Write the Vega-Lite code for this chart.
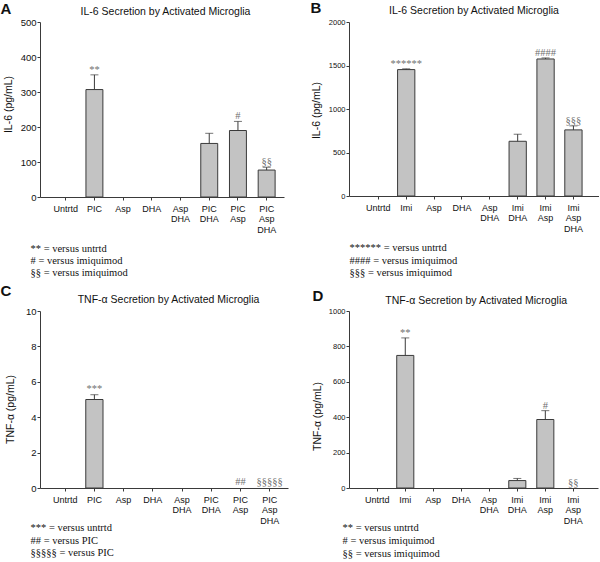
{
"$schema":"https://vega.github.io/schema/vega-lite/v6.json",
"padding":0,
"background":"white",
"datasets":{
"A":[
{"cat":"Untrtd","value":0,"upper":0,"label":""},
{"cat":"PIC","value":307,"upper":349,"label":"**"},
{"cat":"Asp","value":0,"upper":0,"label":""},
{"cat":"DHA","value":0,"upper":0,"label":""},
{"cat":"Asp DHA","value":0,"upper":0,"label":""},
{"cat":"PIC DHA","value":153,"upper":182,"label":""},
{"cat":"PIC Asp","value":190,"upper":216,"label":"#"},
{"cat":"PIC Asp DHA","value":77,"upper":85,"label":"§§"}],
"B":[
{"cat":"Untrtd","value":0,"upper":0,"label":""},
{"cat":"Imi","value":1453,"upper":1462,"label":"******"},
{"cat":"Asp","value":0,"upper":0,"label":""},
{"cat":"DHA","value":0,"upper":0,"label":""},
{"cat":"Asp DHA","value":0,"upper":0,"label":""},
{"cat":"Imi DHA","value":629,"upper":710,"label":""},
{"cat":"Imi Asp","value":1575,"upper":1587,"label":"####"},
{"cat":"Imi Asp DHA","value":760,"upper":806,"label":"§§§"}],
"C":[
{"cat":"Untrtd","value":0,"upper":0,"label":""},
{"cat":"PIC","value":5.0,"upper":5.27,"label":"***"},
{"cat":"Asp","value":0,"upper":0,"label":""},
{"cat":"DHA","value":0,"upper":0,"label":""},
{"cat":"Asp DHA","value":0,"upper":0,"label":""},
{"cat":"PIC DHA","value":0,"upper":0,"label":""},
{"cat":"PIC Asp","value":0,"upper":0,"label":"##"},
{"cat":"PIC Asp DHA","value":0,"upper":0,"label":"§§§§§"}],
"D":[
{"cat":"Untrtd","value":0,"upper":0,"label":""},
{"cat":"Imi","value":749,"upper":848,"label":"**"},
{"cat":"Asp","value":0,"upper":0,"label":""},
{"cat":"DHA","value":0,"upper":0,"label":""},
{"cat":"Asp DHA","value":0,"upper":0,"label":""},
{"cat":"Imi DHA","value":42,"upper":54,"label":""},
{"cat":"Imi Asp","value":387,"upper":437,"label":"#"},
{"cat":"Imi Asp DHA","value":0,"upper":0,"label":"§§"}]
},
"spacing":5,
"vconcat":[
{"spacing":26,"hconcat":[
{"width":244,"height":175,"data":{"name":"A"},
"layer":[
{"transform":[{"filter":"datum.value > 0"}],
"mark":{"type":"bar","fill":"#c3c3c3","stroke":"#3a3a3a","strokeWidth":1},
"encoding":{
"x":{"field":"cat","type":"nominal","sort":null,"scale":{"domain":["Untrtd","PIC","Asp","DHA","Asp DHA","PIC DHA","PIC Asp","PIC Asp DHA"],"paddingInner":0.41,"paddingOuter":0.455,"align":0.66},
"axis":{"orient":"bottom","labelAngle":0,"labelExpr":"split(datum.label, ' ')","labelFontSize":9,"labelLineHeight":10.6,"labelPadding":4,"tickSize":3,"labelOverlap":false,
"title":["** = versus untrtd","# = versus imiquimod","§§ = versus imiquimod"],"titleFont":"Liberation Serif","titleFontSize":10.5,"titleAlign":"left","titleAnchor":"start","titleAngle":0,"titleBaseline":"alphabetic","titleLineHeight":12.2,"titleX":-10,"titleY":54}},
"y":{"field":"value","type":"quantitative","scale":{"domain":[0,500],"nice":false},
"axis":{"orient":"left","values":[0,100,200,300,400,500],"format":"d","labelFontSize":9.5,"tickSize":3,"labelPadding":1,"title":"IL-6 (pg/mL)","titleFontSize":10.5,"titleAngle":-90,"titleBaseline":"middle","titleAlign":"center","titleX":-32,"titleY":82}}}},
{"transform":[{"filter":"datum.upper > datum.value"}],
"mark":{"type":"rule","color":"#3a3a3a","strokeWidth":1},
"encoding":{
"x":{"field":"cat","type":"nominal","sort":null,"scale":{"domain":["Untrtd","PIC","Asp","DHA","Asp DHA","PIC DHA","PIC Asp","PIC Asp DHA"],"paddingInner":0.41,"paddingOuter":0.455,"align":0.66},
"axis":{"orient":"top","labels":false,"ticks":false,"domain":false,"title":"IL-6 Secretion by Activated Microglia","titleFontSize":10.5,"titleAlign":"center","titleBaseline":"alphabetic","titleAngle":0,"titleX":125,"titleY":-8}},
"y":{"field":"value","type":"quantitative","scale":{"domain":[0,500],"nice":false},"axis":null},
"y2":{"field":"upper"}}},
{"transform":[{"filter":"datum.upper > datum.value"}],
"mark":{"type":"tick","color":"#3a3a3a","size":8,"thickness":1},
"encoding":{
"x":{"field":"cat","type":"nominal","sort":null,"scale":{"domain":["Untrtd","PIC","Asp","DHA","Asp DHA","PIC DHA","PIC Asp","PIC Asp DHA"],"paddingInner":0.41,"paddingOuter":0.455,"align":0.66},"axis":null},
"y":{"field":"upper","type":"quantitative","scale":{"domain":[0,500],"nice":false},
"axis":{"orient":"right","labels":false,"ticks":false,"domain":false,"title":"A","titleFontSize":15,"titleFontWeight":"bold","titleAngle":0,"titleAlign":"left","titleBaseline":"alphabetic","titleX":-284,"titleY":-9}}}},
{"transform":[{"filter":"datum.label != ''"}],
"mark":{"type":"text","font":"Liberation Serif","fontSize":10.5,"color":"#707070","dy":-2,"baseline":"alphabetic"},
"encoding":{
"x":{"field":"cat","type":"nominal","sort":null,"scale":{"domain":["Untrtd","PIC","Asp","DHA","Asp DHA","PIC DHA","PIC Asp","PIC Asp DHA"],"paddingInner":0.41,"paddingOuter":0.455,"align":0.66},"axis":null},
"y":{"field":"upper","type":"quantitative","scale":{"domain":[0,500],"nice":false},"axis":null},
"text":{"field":"label"}}}
],
"resolve":{"axis":{"x":"independent","y":"independent"}}},
{"width":250,"height":174,"data":{"name":"B"},
"layer":[
{"transform":[{"filter":"datum.value > 0"}],
"mark":{"type":"bar","fill":"#c3c3c3","stroke":"#3a3a3a","strokeWidth":1},
"encoding":{
"x":{"field":"cat","type":"nominal","sort":null,"scale":{"domain":["Untrtd","Imi","Asp","DHA","Asp DHA","Imi DHA","Imi Asp","Imi Asp DHA"],"paddingInner":0.38,"paddingOuter":0.675,"align":0.55},
"axis":{"orient":"bottom","labelAngle":0,"labelExpr":"split(datum.label, ' ')","labelFontSize":9,"labelLineHeight":10.6,"labelPadding":4,"tickSize":3,"labelOverlap":false,
"title":["****** = versus untrtd","#### = versus imiquimod","§§§ = versus imiquimod"],"titleFont":"Liberation Serif","titleFontSize":10.5,"titleAlign":"left","titleAnchor":"start","titleAngle":0,"titleBaseline":"alphabetic","titleLineHeight":12.5,"titleX":0,"titleY":54.5}},
"y":{"field":"value","type":"quantitative","scale":{"domain":[0,2000],"nice":false},
"axis":{"orient":"left","values":[0,500,1000,1500,2000],"format":"d","labelFontSize":7.5,"tickSize":3,"labelPadding":1,"title":"IL-6 (pg/mL)","titleFontSize":10.5,"titleAngle":-90,"titleBaseline":"middle","titleAlign":"center","titleX":-32.5,"titleY":88}}}},
{"transform":[{"filter":"datum.upper > datum.value"}],
"mark":{"type":"rule","color":"#3a3a3a","strokeWidth":1},
"encoding":{
"x":{"field":"cat","type":"nominal","sort":null,"scale":{"domain":["Untrtd","Imi","Asp","DHA","Asp DHA","Imi DHA","Imi Asp","Imi Asp DHA"],"paddingInner":0.38,"paddingOuter":0.675,"align":0.55},
"axis":{"orient":"top","labels":false,"ticks":false,"domain":false,"title":"IL-6 Secretion by Activated Microglia","titleFontSize":10.5,"titleAlign":"center","titleBaseline":"alphabetic","titleAngle":0,"titleX":124.5,"titleY":-9}},
"y":{"field":"value","type":"quantitative","scale":{"domain":[0,2000],"nice":false},"axis":null},
"y2":{"field":"upper"}}},
{"transform":[{"filter":"datum.upper > datum.value"}],
"mark":{"type":"tick","color":"#3a3a3a","size":8,"thickness":1},
"encoding":{
"x":{"field":"cat","type":"nominal","sort":null,"scale":{"domain":["Untrtd","Imi","Asp","DHA","Asp DHA","Imi DHA","Imi Asp","Imi Asp DHA"],"paddingInner":0.38,"paddingOuter":0.675,"align":0.55},"axis":null},
"y":{"field":"upper","type":"quantitative","scale":{"domain":[0,2000],"nice":false},
"axis":{"orient":"right","labels":false,"ticks":false,"domain":false,"title":"B","titleFontSize":15,"titleFontWeight":"bold","titleAngle":0,"titleAlign":"left","titleBaseline":"alphabetic","titleX":-289,"titleY":-9.3}}}},
{"transform":[{"filter":"datum.label != ''"}],
"mark":{"type":"text","font":"Liberation Serif","fontSize":10.5,"color":"#707070","dy":-2,"baseline":"alphabetic"},
"encoding":{
"x":{"field":"cat","type":"nominal","sort":null,"scale":{"domain":["Untrtd","Imi","Asp","DHA","Asp DHA","Imi DHA","Imi Asp","Imi Asp DHA"],"paddingInner":0.38,"paddingOuter":0.675,"align":0.55},"axis":null},
"y":{"field":"upper","type":"quantitative","scale":{"domain":[0,2000],"nice":false},"axis":null},
"text":{"field":"label"}}}
],
"resolve":{"axis":{"x":"independent","y":"independent"}}}
]},
{"spacing":24,"hconcat":[
{"width":248,"height":177,"data":{"name":"C"},
"layer":[
{"transform":[{"filter":"datum.value > 0"}],
"mark":{"type":"bar","fill":"#c3c3c3","stroke":"#3a3a3a","strokeWidth":1},
"encoding":{
"x":{"field":"cat","type":"nominal","sort":null,"scale":{"domain":["Untrtd","PIC","Asp","DHA","Asp DHA","PIC DHA","PIC Asp","PIC Asp DHA"],"paddingInner":0.41,"paddingOuter":0.45,"align":0.63},
"axis":{"orient":"bottom","labelAngle":0,"labelExpr":"split(datum.label, ' ')","labelFontSize":9,"labelLineHeight":10.6,"labelPadding":4,"tickSize":3,"labelOverlap":false,
"title":["*** = versus untrtd","## = versus PIC","§§§§§ = versus PIC"],"titleFont":"Liberation Serif","titleFontSize":10.5,"titleAlign":"left","titleAnchor":"start","titleAngle":0,"titleBaseline":"alphabetic","titleLineHeight":12.5,"titleX":-10,"titleY":42.5}},
"y":{"field":"value","type":"quantitative","scale":{"domain":[0,10],"nice":false},
"axis":{"orient":"left","values":[0,2,4,6,8,10],"format":"d","labelFontSize":9.5,"tickSize":3,"labelPadding":1,"title":"TNF-α (pg/mL)","titleFontSize":10.5,"titleAngle":-90,"titleBaseline":"middle","titleAlign":"center","titleX":-30,"titleY":98}}}},
{"transform":[{"filter":"datum.upper > datum.value"}],
"mark":{"type":"rule","color":"#3a3a3a","strokeWidth":1},
"encoding":{
"x":{"field":"cat","type":"nominal","sort":null,"scale":{"domain":["Untrtd","PIC","Asp","DHA","Asp DHA","PIC DHA","PIC Asp","PIC Asp DHA"],"paddingInner":0.41,"paddingOuter":0.45,"align":0.63},
"axis":{"orient":"top","labels":false,"ticks":false,"domain":false,"title":"TNF-α Secretion by Activated Microglia","titleFontSize":10.5,"titleAlign":"center","titleBaseline":"alphabetic","titleAngle":0,"titleX":128,"titleY":-9}},
"y":{"field":"value","type":"quantitative","scale":{"domain":[0,10],"nice":false},"axis":null},
"y2":{"field":"upper"}}},
{"transform":[{"filter":"datum.upper > datum.value"}],
"mark":{"type":"tick","color":"#3a3a3a","size":8,"thickness":1},
"encoding":{
"x":{"field":"cat","type":"nominal","sort":null,"scale":{"domain":["Untrtd","PIC","Asp","DHA","Asp DHA","PIC DHA","PIC Asp","PIC Asp DHA"],"paddingInner":0.41,"paddingOuter":0.45,"align":0.63},"axis":null},
"y":{"field":"upper","type":"quantitative","scale":{"domain":[0,10],"nice":false},
"axis":{"orient":"right","labels":false,"ticks":false,"domain":false,"title":"C","titleFontSize":15,"titleFontWeight":"bold","titleAngle":0,"titleAlign":"left","titleBaseline":"alphabetic","titleX":-288,"titleY":-16}}}},
{"transform":[{"filter":"datum.label != ''"}],
"mark":{"type":"text","font":"Liberation Serif","fontSize":10.5,"color":"#707070","dy":-3,"baseline":"alphabetic"},
"encoding":{
"x":{"field":"cat","type":"nominal","sort":null,"scale":{"domain":["Untrtd","PIC","Asp","DHA","Asp DHA","PIC DHA","PIC Asp","PIC Asp DHA"],"paddingInner":0.41,"paddingOuter":0.45,"align":0.63},"axis":null},
"y":{"field":"upper","type":"quantitative","scale":{"domain":[0,10],"nice":false},"axis":null},
"text":{"field":"label"}}}
],
"resolve":{"axis":{"x":"independent","y":"independent"}}},
{"width":249,"height":177,"data":{"name":"D"},
"layer":[
{"transform":[{"filter":"datum.value > 0"}],
"mark":{"type":"bar","fill":"#c3c3c3","stroke":"#3a3a3a","strokeWidth":1},
"encoding":{
"x":{"field":"cat","type":"nominal","sort":null,"scale":{"domain":["Untrtd","Imi","Asp","DHA","Asp DHA","Imi DHA","Imi Asp","Imi Asp DHA"],"paddingInner":0.39,"paddingOuter":0.64,"align":0.55},
"axis":{"orient":"bottom","labelAngle":0,"labelExpr":"split(datum.label, ' ')","labelFontSize":9,"labelLineHeight":10.6,"labelPadding":4,"tickSize":3,"labelOverlap":false,
"title":["** = versus untrtd","# = versus imiquimod","§§ = versus imiquimod"],"titleFont":"Liberation Serif","titleFontSize":10.5,"titleAlign":"left","titleAnchor":"start","titleAngle":0,"titleBaseline":"alphabetic","titleLineHeight":12.8,"titleX":-7,"titleY":42.6}},
"y":{"field":"value","type":"quantitative","scale":{"domain":[0,1000],"nice":false},
"axis":{"orient":"left","values":[0,200,400,600,800,1000],"format":"d","labelFontSize":7.5,"tickSize":3,"labelPadding":1,"title":"TNF-α (pg/mL)","titleFontSize":10.5,"titleAngle":-90,"titleBaseline":"middle","titleAlign":"center","titleX":-32,"titleY":105}}}},
{"transform":[{"filter":"datum.upper > datum.value"}],
"mark":{"type":"rule","color":"#3a3a3a","strokeWidth":1},
"encoding":{
"x":{"field":"cat","type":"nominal","sort":null,"scale":{"domain":["Untrtd","Imi","Asp","DHA","Asp DHA","Imi DHA","Imi Asp","Imi Asp DHA"],"paddingInner":0.39,"paddingOuter":0.64,"align":0.55},
"axis":{"orient":"top","labels":false,"ticks":false,"domain":false,"title":"TNF-α Secretion by Activated Microglia","titleFontSize":10.5,"titleAlign":"center","titleBaseline":"alphabetic","titleAngle":0,"titleX":126.7,"titleY":-7.2}},
"y":{"field":"value","type":"quantitative","scale":{"domain":[0,1000],"nice":false},"axis":null},
"y2":{"field":"upper"}}},
{"transform":[{"filter":"datum.upper > datum.value"}],
"mark":{"type":"tick","color":"#3a3a3a","size":8,"thickness":1},
"encoding":{
"x":{"field":"cat","type":"nominal","sort":null,"scale":{"domain":["Untrtd","Imi","Asp","DHA","Asp DHA","Imi DHA","Imi Asp","Imi Asp DHA"],"paddingInner":0.39,"paddingOuter":0.64,"align":0.55},"axis":null},
"y":{"field":"upper","type":"quantitative","scale":{"domain":[0,1000],"nice":false},
"axis":{"orient":"right","labels":false,"ticks":false,"domain":false,"title":"D","titleFontSize":15,"titleFontWeight":"bold","titleAngle":0,"titleAlign":"left","titleBaseline":"alphabetic","titleX":-286,"titleY":-11}}}},
{"transform":[{"filter":"datum.label != ''"}],
"mark":{"type":"text","font":"Liberation Serif","fontSize":10.5,"color":"#707070","dy":-2,"baseline":"alphabetic"},
"encoding":{
"x":{"field":"cat","type":"nominal","sort":null,"scale":{"domain":["Untrtd","Imi","Asp","DHA","Asp DHA","Imi DHA","Imi Asp","Imi Asp DHA"],"paddingInner":0.39,"paddingOuter":0.64,"align":0.55},"axis":null},
"y":{"field":"upper","type":"quantitative","scale":{"domain":[0,1000],"nice":false},"axis":null},
"text":{"field":"label"}}}
],
"resolve":{"axis":{"x":"independent","y":"independent"}}}
]}
],
"config":{
"view":{"stroke":null},
"axis":{"labelFont":"Liberation Sans","titleFont":"Liberation Sans","titleFontWeight":"normal","labelColor":"#111","titleColor":"#111","domainColor":"#3a3a3a","tickColor":"#3a3a3a","grid":false}
}
}
